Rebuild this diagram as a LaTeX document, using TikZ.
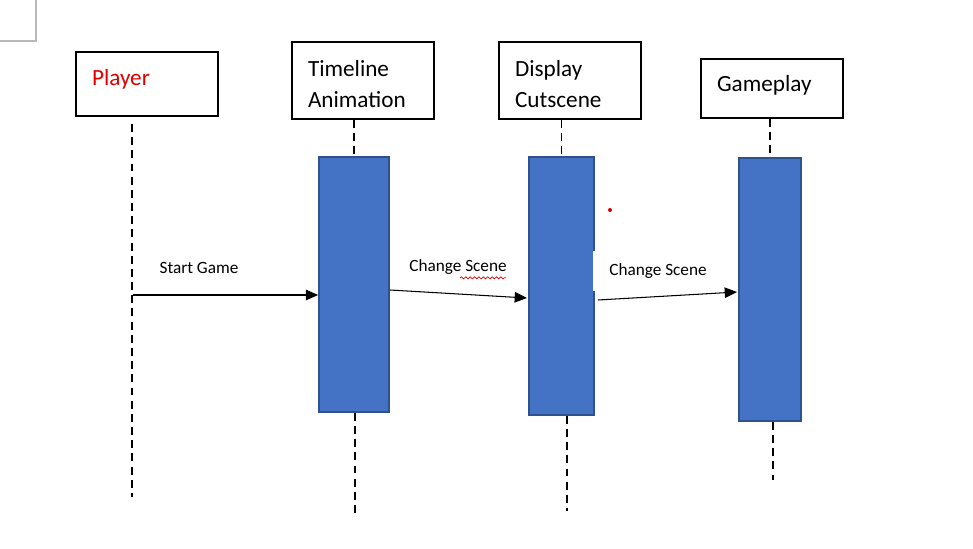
\documentclass[tikz,border=0pt]{standalone}
\usepackage{fontspec}
\setmainfont{Carlito}
\usetikzlibrary{arrows.meta,positioning,calc,decorations.pathmorphing}
\definecolor{BarBlue}{HTML}{4472C4}
\definecolor{BarEdge}{HTML}{2F528F}
\definecolor{TitleRed}{HTML}{E00000}

\begin{document}
\begin{tikzpicture}[x=0.02cm,y=-0.02cm,
  actor/.style={draw,line width=1.1pt,inner xsep=0.32cm,text width=2.2cm,align=left,font=\fontsize{13.2}{17.8}\selectfont},
  bar/.style={draw=BarEdge,line width=1pt,fill=BarBlue,inner sep=0pt},
  life/.style={line width=1.1pt,dash pattern=on 4.5pt off 3pt},
  msg/.style={line width=0.6pt,-{Triangle[length=7pt,width=6pt]}},
  lbl/.style={font=\fontsize{9.8}{12}\selectfont,inner sep=0pt}]
  \useasboundingbox (0,0) rectangle (973,548);
  % page corner mark
  \draw[gray!55,line width=0.6pt] (0,41) -- (36,41) -- (36,0);

  % participants
  \node[actor,minimum height=1.28cm,text depth=0.28cm,text=TitleRed] (pl) at (147,84) {Player};
  \node[actor,minimum height=1.54cm,text height=0.45cm] (tl) at (363,80.5) {Timeline\\Animation};
  \node[actor,minimum height=1.54cm,text height=0.45cm] (dc) at (570,80.5) {Display\\Cutscene};
  \node[actor,minimum height=1.18cm,text depth=0.22cm] (gp) at (772,88.5) {Gameplay};

  % activation bars
  \node[bar,minimum width=1.4cm,minimum height=5.1cm] (tla) at (354,284.5) {};
  \node[bar,minimum width=1.3cm,minimum height=5.16cm] (dca) at (561.5,286) {};
  \node[bar,minimum width=1.24cm,minimum height=5.26cm] (gpa) at (770,289.5) {};

  % lifelines
  \coordinate (pl-top) at (132,124);
  \coordinate (pl-end) at (132,497);
  \coordinate (tl-end) at (355,515);
  \coordinate (dc-end) at (567,511);
  \coordinate (gp-end) at (773,480);
  \draw[life] (pl-top) -- (pl-end);
  \draw[life] (tl.south -| tla.north) -- (tla.north);
  \draw[life] (tla.south -| tl-end) -- (tl-end);
  \draw[life] (dc.south -| dca.north) -- (dca.north);
  \draw[life] (dca.south -| dc-end) -- (dc-end);
  \draw[life] (gp.south -| gpa.north) -- (gpa.north);
  \draw[life] (gpa.south -| gp-end) -- (gp-end);

  % messages
  \coordinate (m1) at (133,295);
  \coordinate (m2a) at (390,290);
  \coordinate (m2b) at (527,298);
  \coordinate (m3a) at (598,300);
  \coordinate (m3b) at (737,292);
  \draw[msg] (m1) -- (tla.west |- m1);
  \draw[msg] (m2a) -- (m2b);
  \node[lbl] (l1) at (199,268) {Start Game};
  \node[lbl] (l2) at (458,267) {Change Scene};
  \draw[red!85!black,line width=0.4pt,decorate,decoration={snake,amplitude=0.6pt,segment length=2.5pt}]
    ($(l2.south east)+(-47,3)$) -- ($(l2.south east)+(-1,3)$);
  \node[lbl,fill=white,anchor=west,inner xsep=16*0.02cm,minimum height=0.8cm] (l3) at (593,271) {Change Scene};
  \draw[msg] (m3a) -- (m3b);

  % stray dot
  \fill[red!85!black] (610,210) circle (0.04cm);
\end{tikzpicture}
\end{document}
